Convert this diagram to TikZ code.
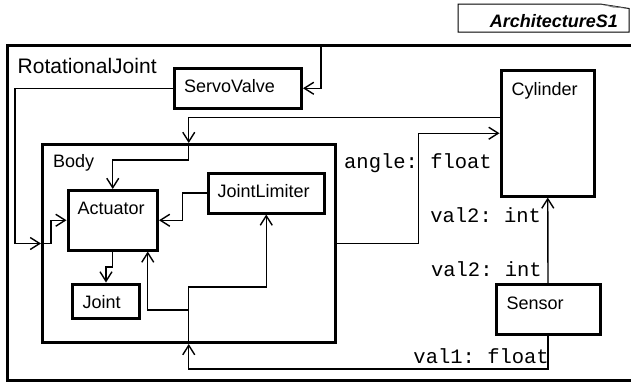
\documentclass[tikz,border=0pt]{standalone}
\usepackage{fontspec}
\setmainfont{Liberation Sans}
\setmonofont{Liberation Mono}
\usetikzlibrary{calc,arrows.meta,positioning}

\begin{document}
\begin{tikzpicture}[x=1pt,y=-1pt,
  part/.style={draw, line width=3pt, inner sep=0pt},
  tag/.style={font=\fontsize{18}{21}\selectfont, inner sep=0pt, anchor=base west},
  sig/.style={font=\ttfamily\fontsize{20.5}{24}\selectfont, inner sep=0pt, anchor=base east},
  flow/.style={line width=1.4pt, -{Straight Barb[length=9.5pt,width=12pt]}}]
  \clip (0,0) rectangle (631,383);
  % diagram tab
  \draw[line width=1pt] (458,4) -- (600,4) -- (629,8.5) -- (629,32) -- (458,32) -- cycle;
  \fill[gray] (600,4) -- (613,7.5) -- (629,8.5) -- cycle;
  \node[font=\bfseries\itshape\fontsize{18}{21}\selectfont, inner sep=0pt, anchor=base east] (title) at (618,27) {ArchitectureS1};
  % blocks
  \node[part, minimum width=633pt, minimum height=335.5pt] (rj) at (323.5,212.75) {};
  \node[tag, font=\fontsize{21}{24}\selectfont] (rj-t) at ($(rj.north west)+(12,29.5)$) {RotationalJoint};
  \node[part, minimum width=127pt, minimum height=39.5pt] (servo) at (238,88.25) {};
  \node[tag] (servo-t) at ($(servo.north west)+(11,25.5)$) {ServoValve};
  \node[part, minimum width=292.5pt, minimum height=198pt] (body) at (188.75,243.5) {};
  \node[tag] (body-t) at ($(body.north west)+(12,24)$) {Body};
  \node[part, minimum width=89.5pt, minimum height=59.5pt] (act) at (112.75,220.25) {};
  \node[tag] (act-t) at ($(act.north west)+(11,25.5)$) {Actuator};
  \node[part, minimum width=116.5pt, minimum height=40pt] (lim) at (266.25,193) {};
  \node[tag] (lim-t) at ($(lim.north west)+(11,25.5)$) {JointLimiter};
  \node[part, minimum width=67pt, minimum height=34.5pt] (joint) at (106,301.25) {};
  \node[tag] (joint-t) at ($(joint.north west)+(11.5,25.5)$) {Joint};
  \node[part, minimum width=93.5pt, minimum height=125.5pt] (cyl) at (547.75,133.25) {};
  \node[tag] (cyl-t) at ($(cyl.north west)+(12,26)$) {Cylinder};
  \node[part, minimum width=104pt, minimum height=50pt] (sen) at (548,309.5) {};
  \node[tag] (sen-t) at ($(sen.north west)+(12,26)$) {Sensor};
  % connectors
  \coordinate (svIn) at (321,45);
  \draw[flow] (svIn) |- (servo.east);
  \draw[flow] (servo.west) -- ++(-158,0) |- (body.west);
  \draw[flow] (body.west) -- ++(10,0) |- (act.west);
  \draw[flow] ([yshift=16pt]cyl.west) -| (body.north);
  \draw[flow] (body.north) -- ++(0,17) -| (act.north);
  \draw[flow] (body.east) -- ++(82,0) |- (cyl.west);
  \draw[flow] (sen.north) -- (cyl.south);
  \draw[flow] (sen.south) -- ++(0,33) -| (body.south);
  \draw[flow] (body.south) -- ++(0,-57) -| (lim.south);
  \draw[flow] (body.south) -- ++(0,-34) -| ([xshift=35pt]act.south);
  \draw[flow] (lim.west) -- ++(-24,0) |- (act.east);
  \draw[flow] (act.south) -- ++(0,15.5) -| (joint.north);
  % signal labels
  \node[sig] (angle) at ($(cyl.west)+(-7.5,35)$) {angle: float};
  \node[sig] (val2a) at ($(cyl.south)+(-6.5,24.5)$) {val2: int};
  \node[sig] (val2b) at ($(sen.north)+(-6,-7)$) {val2: int};
  \node[sig] (val1) at ($(sen.south)+(1,27)$) {val1: float};
\end{tikzpicture}
\end{document}
